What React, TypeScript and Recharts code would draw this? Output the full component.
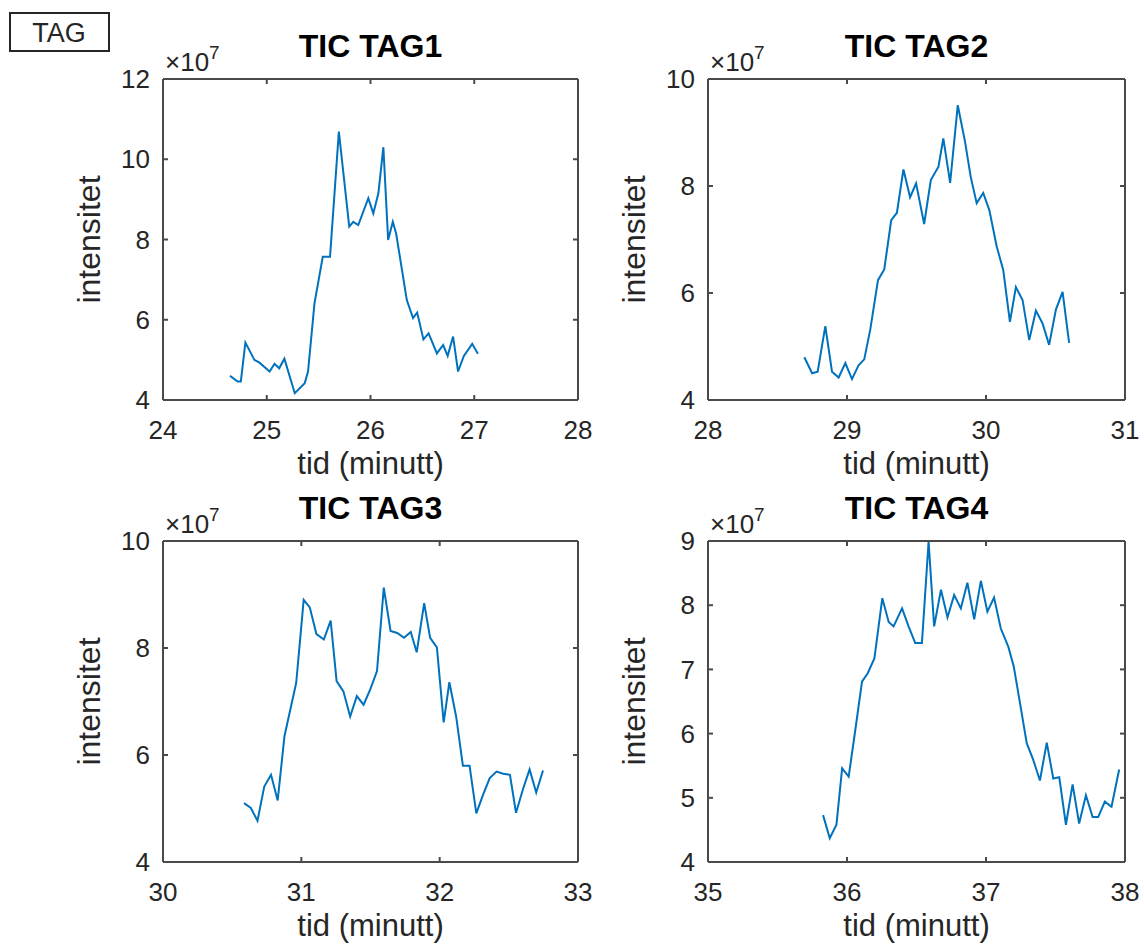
import React from 'react';
import { LineChart, Line, XAxis, YAxis } from 'recharts';

// ---------- data (intensity in units of 1e7, time in minutes) ----------
const tag1Time = [24.646, 24.72, 24.75, 24.794, 24.881, 24.93, 25.027, 25.075, 25.12, 25.17, 25.27, 25.366, 25.398, 25.46, 25.54, 25.61, 25.695, 25.795, 25.834, 25.882, 25.979, 26.027, 26.076, 26.124, 26.17, 26.215, 26.247, 26.35, 26.41, 26.45, 26.51, 26.56, 26.64, 26.7, 26.744, 26.796, 26.844, 26.9, 26.98, 27.035];
const tag1Intensity = [4.6, 4.46, 4.46, 5.43, 5.0, 4.93, 4.71, 4.9, 4.79, 5.03, 4.17, 4.42, 4.71, 6.41, 7.57, 7.57, 10.69, 8.32, 8.44, 8.36, 9.03, 8.65, 9.15, 10.3, 7.99, 8.44, 8.15, 6.49, 6.04, 6.18, 5.51, 5.66, 5.16, 5.37, 5.1, 5.58, 4.71, 5.1, 5.4, 5.15];

const tag2Time = [28.693, 28.749, 28.789, 28.844, 28.892, 28.94, 28.988, 29.036, 29.083, 29.124, 29.167, 29.223, 29.268, 29.318, 29.359, 29.406, 29.454, 29.497, 29.555, 29.603, 29.658, 29.693, 29.742, 29.797, 29.849, 29.89, 29.933, 29.98, 30.024, 30.077, 30.124, 30.172, 30.215, 30.263, 30.311, 30.359, 30.407, 30.454, 30.503, 30.551, 30.598];
const tag2Intensity = [4.8, 4.5, 4.53, 5.38, 4.53, 4.42, 4.69, 4.39, 4.65, 4.76, 5.31, 6.24, 6.44, 7.36, 7.5, 8.31, 7.79, 8.05, 7.29, 8.11, 8.36, 8.89, 8.06, 9.51, 8.83, 8.17, 7.68, 7.87, 7.55, 6.87, 6.43, 5.46, 6.11, 5.87, 5.12, 5.67, 5.43, 5.03, 5.69, 6.02, 5.07];

const tag3Time = [30.586, 30.635, 30.683, 30.732, 30.781, 30.829, 30.878, 30.963, 31.017, 31.061, 31.109, 31.163, 31.212, 31.255, 31.304, 31.353, 31.401, 31.45, 31.499, 31.547, 31.596, 31.645, 31.693, 31.742, 31.791, 31.834, 31.888, 31.931, 31.98, 32.029, 32.07, 32.119, 32.168, 32.216, 32.265, 32.314, 32.362, 32.411, 32.46, 32.508, 32.552, 32.601, 32.65, 32.698, 32.747];
const tag3Intensity = [5.1, 5.01, 4.77, 5.41, 5.63, 5.15, 6.35, 7.35, 8.9, 8.76, 8.26, 8.16, 8.51, 7.38, 7.19, 6.72, 7.1, 6.94, 7.23, 7.57, 9.13, 8.32, 8.28, 8.19, 8.3, 7.92, 8.84, 8.19, 8.01, 6.61, 7.36, 6.72, 5.8, 5.8, 4.91, 5.26, 5.57, 5.69, 5.65, 5.63, 4.92, 5.35, 5.73, 5.3, 5.71];

const tag4Time = [35.828, 35.876, 35.924, 35.965, 36.012, 36.06, 36.108, 36.149, 36.197, 36.254, 36.3, 36.335, 36.396, 36.443, 36.491, 36.539, 36.587, 36.627, 36.676, 36.723, 36.771, 36.819, 36.866, 36.915, 36.963, 37.01, 37.058, 37.106, 37.161, 37.2, 37.245, 37.293, 37.34, 37.388, 37.437, 37.484, 37.527, 37.575, 37.623, 37.67, 37.719, 37.767, 37.807, 37.855, 37.903, 37.958];
const tag4Intensity = [4.73, 4.37, 4.58, 5.46, 5.33, 6.06, 6.81, 6.94, 7.17, 8.11, 7.74, 7.67, 7.95, 7.67, 7.41, 7.41, 8.99, 7.67, 8.24, 7.81, 8.16, 7.95, 8.35, 7.78, 8.38, 7.9, 8.12, 7.64, 7.35, 7.04, 6.47, 5.85, 5.59, 5.27, 5.86, 5.3, 5.32, 4.58, 5.21, 4.6, 5.04, 4.7, 4.7, 4.94, 4.86, 5.44];

const titles = ['TIC TAG1', 'TIC TAG2', 'TIC TAG3', 'TIC TAG4'];
const xTicks1 = [24, 25, 26, 27, 28];
const xTicks2 = [28, 29, 30, 31];
const xTicks3 = [30, 31, 32, 33];
const xTicks4 = [35, 36, 37, 38];
const yTicks1 = [4, 6, 8, 10, 12];
const yTicks2 = [4, 6, 8, 10];
const yTicks3 = [4, 6, 8, 10];
const yTicks4 = [4, 5, 6, 7, 8, 9];
const xLabel = 'tid (minutt)';
const yLabel = 'intensitet';
const boxLabel = 'TAG';

const toRows = (t: number[], v: number[]) => t.map((x, i) => ({ t: x, v: v[i] }));

// ---------- styling ----------
const FONT = '"Liberation Sans", Arial, Helvetica, sans-serif';
const AXIS = '#4a4a4a';
const TEXT = '#262626';
const LINE = '#0072BD';

const ML = 110;
const MT = 80;
const MR = 30;
const MB = 120;
const TICK = 5;

type PanelProps = {
  rows: { t: number; v: number }[];
  xTicks: number[];
  yTicks: number[];
  left: number;
  top: number;
  w: number;
  h: number;
};

function Panel({ rows, xTicks, yTicks, left, top, w, h }: PanelProps) {
  const xDomain: [number, number] = [xTicks[0], xTicks[xTicks.length - 1]];
  const yDomain: [number, number] = [yTicks[0], yTicks[yTicks.length - 1]];
  const tickStyle = { fill: TEXT, fontSize: 26, fontFamily: FONT };
  const blank = () => '';
  const lineStyle = { stroke: AXIS, strokeWidth: 2 };
  return (
    <div style={{ position: 'absolute', left: left - ML, top: top - MT }}>
      <LineChart
        width={w + ML + MR}
        height={h + MT + MB}
        data={rows}
        margin={{ top: MT, right: MR, left: 0, bottom: 0 }}
      >
        <XAxis
          xAxisId="b"
          dataKey="t"
          type="number"
          domain={xDomain}
          ticks={xTicks}
          interval={0}
          allowDataOverflow
          orientation="bottom"
          height={MB}
          stroke={AXIS}
          strokeWidth={2}
          tickSize={-TICK}
          tickMargin={26}
          tick={tickStyle}
          tickLine={lineStyle}
        />
        <XAxis
          xAxisId="t"
          dataKey="t"
          type="number"
          domain={xDomain}
          ticks={xTicks}
          interval={0}
          allowDataOverflow
          orientation="top"
          mirror
          height={1}
          stroke={AXIS}
          strokeWidth={2}
          tickSize={TICK}
          tickFormatter={blank}
          tickLine={lineStyle}
        />
        <YAxis
          yAxisId="l"
          type="number"
          domain={yDomain}
          ticks={yTicks}
          interval={0}
          allowDataOverflow
          orientation="left"
          width={ML}
          stroke={AXIS}
          strokeWidth={2}
          tickSize={-TICK}
          tickMargin={18}
          tick={tickStyle}
          tickLine={lineStyle}
        />
        <YAxis
          yAxisId="r"
          type="number"
          domain={yDomain}
          ticks={yTicks}
          interval={0}
          allowDataOverflow
          orientation="right"
          mirror
          width={1}
          stroke={AXIS}
          strokeWidth={2}
          tickSize={TICK}
          tickFormatter={blank}
          tickLine={lineStyle}
        />
        <Line
          xAxisId="b"
          yAxisId="l"
          type="linear"
          dataKey="v"
          stroke={LINE}
          strokeWidth={2}
          dot={false}
          activeDot={false}
          isAnimationActive={false}
        />
      </LineChart>
    </div>
  );
}

const panels = [
  { rows: toRows(tag1Time, tag1Intensity), xTicks: xTicks1, yTicks: yTicks1, left: 163, top: 79, w: 415, h: 321 },
  { rows: toRows(tag2Time, tag2Intensity), xTicks: xTicks2, yTicks: yTicks2, left: 708, top: 79, w: 417, h: 321 },
  { rows: toRows(tag3Time, tag3Intensity), xTicks: xTicks3, yTicks: yTicks3, left: 163, top: 541, w: 415, h: 321 },
  { rows: toRows(tag4Time, tag4Intensity), xTicks: xTicks4, yTicks: yTicks4, left: 708, top: 541, w: 417, h: 321 },
];

export default function App() {
  return (
    <div
      style={{
        position: 'absolute',
        left: 0,
        top: 0,
        width: 1144,
        height: 949,
        background: '#ffffff',
        overflow: 'hidden',
        fontFamily: FONT,
      }}
    >
      {panels.map((p, i) => (
        <Panel key={i} {...p} />
      ))}
      <svg
        width={1144}
        height={949}
        style={{ position: 'absolute', left: 0, top: 0, pointerEvents: 'none' }}
      >
        <rect x={10} y={13} width={99} height={38} fill="#fff" stroke={TEXT} strokeWidth={2} />
        <text x={59} y={42} textAnchor="middle" fontSize={27} fontFamily={FONT} fill={TEXT}>
          {boxLabel}
        </text>
        {panels.map((p, i) => (
          <g key={i}>
            <text
              x={p.left + p.w / 2}
              y={p.top - 22}
              textAnchor="middle"
              fontSize={32}
              fontWeight="bold"
              fontFamily={FONT}
              fill="#000"
            >
              {titles[i]}
            </text>
            <text x={p.left + 2} y={p.top - 8} fontSize={26} fontFamily={FONT} fill={TEXT}>
              ×10
              <tspan fontSize={19} dy={-12}>7</tspan>
            </text>
            <text
              x={p.left + p.w / 2}
              y={p.top + p.h + 74}
              textAnchor="middle"
              fontSize={31}
              fontFamily={FONT}
              fill={TEXT}
            >
              {xLabel}
            </text>
            <text
              x={p.left - 63}
              y={p.top + p.h / 2}
              textAnchor="middle"
              fontSize={32}
              fontFamily={FONT}
              fill={TEXT}
              transform={`rotate(-90 ${p.left - 63} ${p.top + p.h / 2})`}
            >
              {yLabel}
            </text>
          </g>
        ))}
      </svg>
    </div>
  );
}
